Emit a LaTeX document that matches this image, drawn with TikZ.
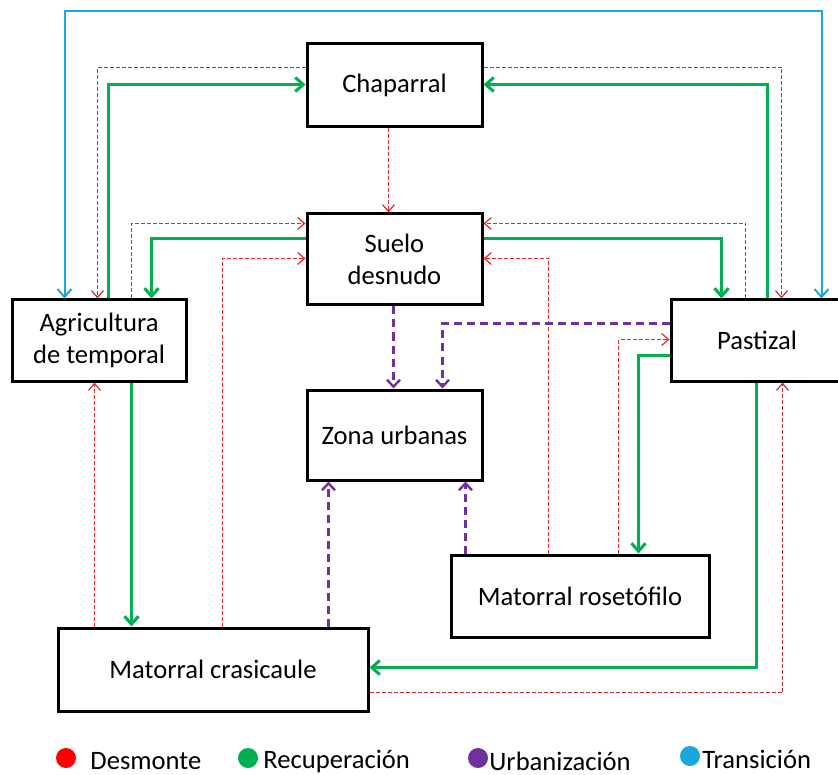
\documentclass[tikz,border=0pt]{standalone}
\usepackage{fontspec}
\setmainfont{Carlito}
\usetikzlibrary{arrows.meta,calc}
\definecolor{cdes}{HTML}{E8262A}
\definecolor{cdesd}{HTML}{C8282C}
\definecolor{crec}{HTML}{00B050}
\definecolor{curb}{HTML}{7030A0}
\definecolor{ctra}{HTML}{1AA7E0}
\tikzset{
  x=0.5pt,y=-0.5pt,
  box/.style={draw=black,line width=1.5pt,fill=white,inner sep=0pt,align=center,
    font=\fontsize{13.3}{16}\selectfont},
  des/.style={cdes,line width=0.6pt,dash pattern=on 2pt off 1pt,
    -{Straight Barb[length=3.5pt,width=6pt,line width=0.6pt]}},
  desd/.style={des,cdesd,line width=0.75pt},
  rec/.style={crec,line width=1.5pt,
    -{Straight Barb[length=4pt,width=7pt,line width=1.5pt]}},
  urb/.style={curb,line width=1.5pt,dash pattern=on 4pt off 2.5pt,
    -{Straight Barb[length=3.5pt,width=6.5pt,line width=1.2pt]}},
  tra/.style={ctra,line width=1pt,
    {Straight Barb[length=4pt,width=7pt,line width=1pt]}-{Straight Barb[length=4pt,width=7pt,line width=1pt]}},
  dot/.style={circle,inner sep=0pt,minimum size=10pt},
  leg/.style={anchor=west,inner sep=0pt,font=\fontsize{13.3}{16}\selectfont},
}
\begin{document}
\begin{tikzpicture}
\useasboundingbox[fill=white] (0,0) rectangle (838,774);
% boxes
\node[box,minimum width=87.5pt,minimum height=41.5pt] (chap) at (394.5,85.5) {Chaparral};
\node[box,minimum width=87.5pt,minimum height=45.5pt] (suelo) at (394.5,259.5) {Suelo\\desnudo};
\node[box,minimum width=87pt,minimum height=40.5pt] (agri) at (99,340.5) {Agricultura\\de temporal};
\node[box,minimum width=86pt,minimum height=40.5pt] (pas) at (757,340.5) {Pastizal};
\node[box,minimum width=87.5pt,minimum height=45pt] (zona) at (394.5,435) {Zona urbanas};
\node[box,minimum width=155pt,minimum height=41.5pt] (cras) at (213,669.5) {Matorral crasicaule};
\node[box,minimum width=129pt,minimum height=41pt] (ros) at (580,596) {Matorral rosetófilo};

% Transición
\draw[tra] ($(agri.north west)+(54,0)$) -- ++(0,-287) -| ($(pas.north west)+(152,0)$);

% Desmonte
\draw[desd] ($(chap.north west)+(0,25)$) -| ($(agri.north west)+(87,0)$);
\draw[desd] ($(chap.north east)+(0,25)$) -| ($(pas.north west)+(112,0)$);
\draw[des] ($(chap.south west)+(83,0)$) -- ($(suelo.north west)+(83,0)$);
\draw[des] ($(agri.north west)+(121,0)$) |- ($(suelo.north west)+(0,11)$);
\draw[des] ($(cras.north west)+(166,0)$) |- ($(suelo.north west)+(0,46)$);
\draw[des] ($(pas.north west)+(76,0)$) |- ($(suelo.north east)+(0,11)$);
\draw[des] ($(ros.north west)+(99,0)$) |- ($(suelo.north east)+(0,46)$);
\draw[des] ($(ros.north west)+(169,0)$) |- ($(pas.north west)+(0,41)$);
\draw[des] ($(cras.north west)+(38,0)$) -- ($(agri.south west)+(84,0)$);
\draw[desd] ($(cras.north east)+(0,66)$) -| ($(pas.south west)+(113,0)$);

% Recuperación
\draw[rec] ($(agri.north west)+(98,0)$) |- ($(chap.north west)+(0,42)$);
\draw[rec] ($(pas.north west)+(98,0)$) |- ($(chap.north east)+(0,42)$);
\draw[rec] ($(suelo.north west)+(0,26)$) -| ($(agri.north west)+(141,0)$);
\draw[rec] ($(suelo.north east)+(0,26)$) -| ($(pas.north west)+(52,0)$);
\draw[rec] ($(agri.south west)+(121,0)$) -- ($(cras.north west)+(75,0)$);
\draw[rec] ($(pas.north west)+(0,57)$) -| ($(ros.north west)+(189,0)$);
\draw[rec] ($(pas.south west)+(87,0)$) |- ($(cras.north east)+(0,41)$);

% Urbanización
\draw[urb] ($(suelo.south west)+(88,0)$) -- ($(zona.north west)+(88,0)$);
\draw[urb] ($(pas.north west)+(0,25)$) -| ($(zona.north west)+(137,0)$);
\draw[urb] ($(cras.north west)+(272,0)$) -- ($(zona.south west)+(23,0)$);
\draw[urb] ($(ros.north west)+(16,0)$) -- ($(zona.south west)+(160,0)$);

% legend
\node[dot,fill=red] (d1) at (66,758) {};
\node[leg] (t1) at (90,761) {Desmonte};
\node[dot,fill=crec] (d2) at (248,758) {};
\node[leg] (t2) at (263,761) {Recuperación};
\node[dot,fill=curb] (d3) at (478,758) {};
\node[leg] (t3) at (489,761) {Urbanización};
\node[dot,fill=ctra] (d4) at (690,756) {};
\node[leg] (t4) at (702,759) {Transición};
\end{tikzpicture}
\end{document}
